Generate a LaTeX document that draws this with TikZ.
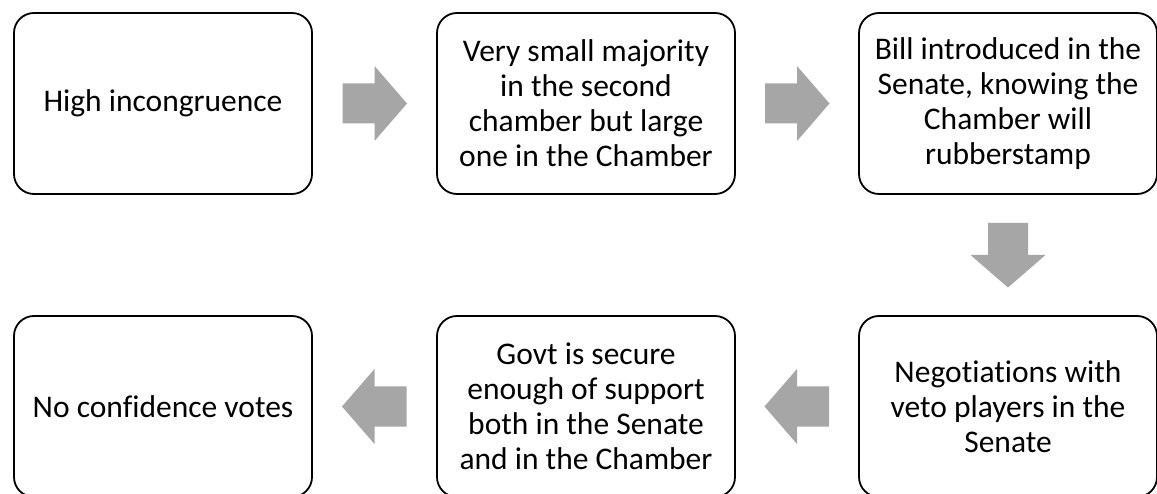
\documentclass[tikz,border=0pt]{standalone}
\usepackage{fontspec}
\setmainfont[Ligatures=NoCommon]{Carlito}
\usetikzlibrary{calc}
\definecolor{arrowgray}{HTML}{A6A6A6}
\tikzset{
  stagebox/.style={draw=black, line width=1.8pt, rounded corners=20pt, fill=white,
    minimum width=298pt, minimum height=181pt, align=center,
    font=\fontsize{31.5pt}{35pt}\selectfont, inner sep=0pt},
  fatarrow/.pic={\fill[arrowgray] (-32,-20) -- (0,-20) -- (0,-37.5) -- (32.5,0) -- (0,37.5) -- (0,20) -- (-32,20) -- cycle;}
}
\begin{document}
\begin{tikzpicture}[x=1pt,y=1pt]
\clip (0,0) rectangle (1157,493);
\useasboundingbox (0,0) rectangle (1157,493);
\node[stagebox] (b1) at (163,389.5) {High incongruence};
\node[stagebox] (b2) at (586,389.5) {Very small majority\\in the second\\chamber but large\\one in the Chamber};
\node[stagebox] (b3) at (1008,389.5) {Bill introduced in the\\Senate, knowing the\\Chamber will\\rubberstamp};
\node[stagebox] (b4) at (1008,86.5) {Negotiations with\\veto players in the\\Senate};
\node[stagebox] (b5) at (586,86.5) {Govt is secure\\enough of support\\both in the Senate\\and in the Chamber};
\node[stagebox] (b6) at (163,86.5) {No confidence votes};
\coordinate (m12) at ($(b1.east)!0.5!(b2.west)$);
\coordinate (m23) at ($(b2.east)!0.5!(b3.west)$);
\coordinate (m34) at ($(b3.south)!0.5!(b4.north)$);
\coordinate (m45) at ($(b4.west)!0.5!(b5.east)$);
\coordinate (m56) at ($(b5.west)!0.5!(b6.east)$);
\pic at (m12) {fatarrow};
\pic at (m23) {fatarrow};
\pic[rotate=-90] at (m34) {fatarrow};
\pic[rotate=180] at (m45) {fatarrow};
\pic[rotate=180] at (m56) {fatarrow};
\end{tikzpicture}
\end{document}
